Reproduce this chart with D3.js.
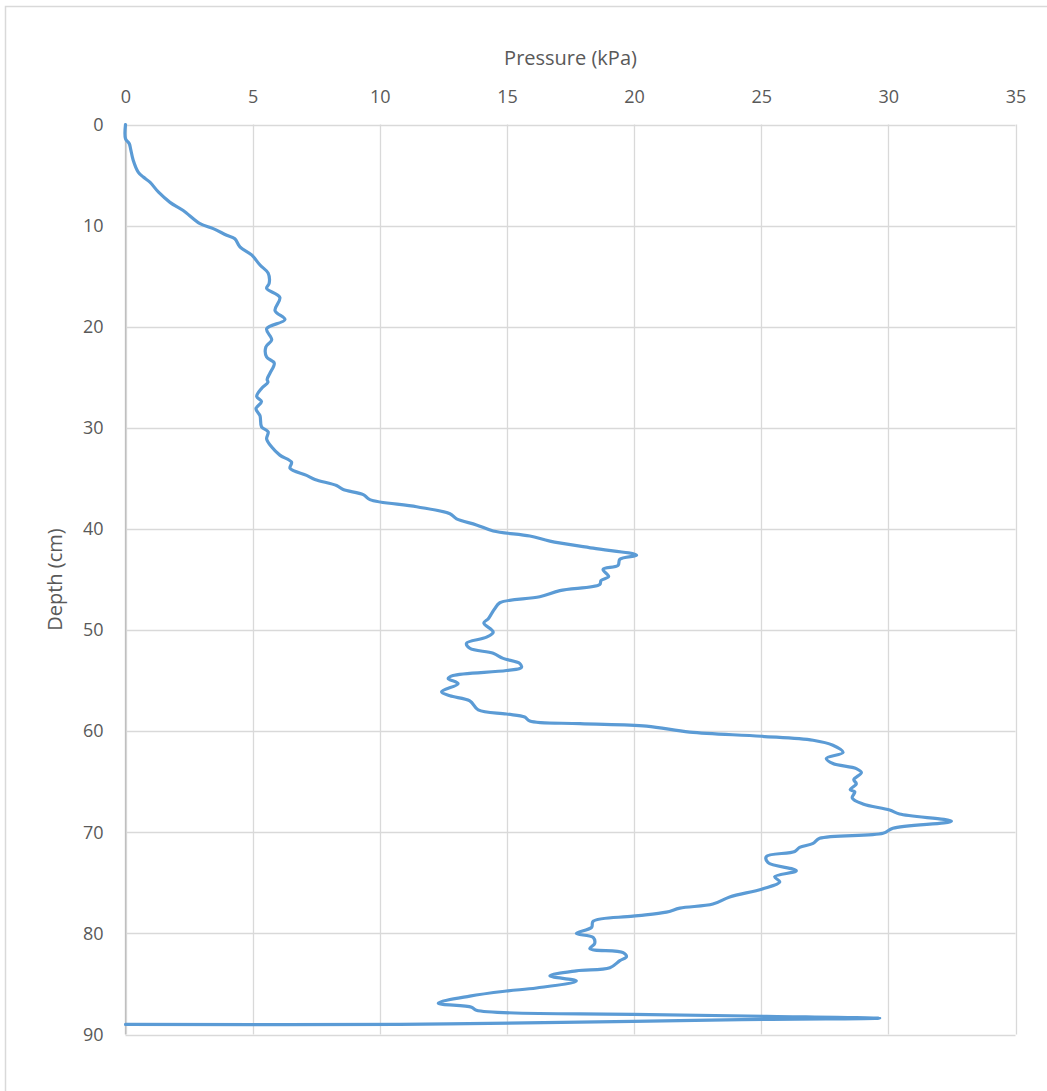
<!DOCTYPE html>
<html>
<head>
<meta charset="utf-8">
<script src="https://cdn.jsdelivr.net/npm/d3@7"></script>
<style>
  html, body { margin: 0; padding: 0; background: #fff; }
  svg { display: block; }
  text { font-family: "Open Sans", "Noto Sans", sans-serif; fill: #595959; }
</style>
</head>
<body>
<svg id="chart" width="1047" height="1091"></svg>
<script>
// Cone penetrometer profile: depth (cm) against pressure (kPa), in trace order
const depth = [
  0.0, 1.4, 1.9, 2.4, 3.5, 4.7, 5.2, 5.7, 6.7, 7.7, 8.5, 9.8, 10.3, 10.95, 11.3, 12.1,
  12.9, 13.9, 14.7, 15.7, 16.2, 17.1, 18.4, 19.3, 20.2, 21.3, 22.0, 23.0, 23.6, 24.6,
  25.2, 25.5, 26.1, 26.9, 27.4, 28.1, 28.8, 29.9, 30.4, 31.1, 31.9, 32.7, 33.4, 34.0,
  34.7, 35.1, 35.7, 36.1, 36.6, 37.1, 37.8, 38.5, 39.0, 39.6, 40.2, 40.7, 41.2, 41.9,
  42.6, 43.0, 43.6, 44.0, 44.7, 45.1, 45.5, 46.1, 46.7, 47.3, 47.9, 48.4, 48.9, 49.3,
  50.2, 50.7, 51.3, 51.8, 52.3, 52.8, 53.3, 53.7, 54.0, 54.5, 54.8, 55.3, 56.1, 56.5,
  57.0, 57.9, 58.3, 58.6, 59.0, 59.25, 59.5, 60.1, 60.5, 60.9, 61.4, 62.1, 62.7, 63.2,
  63.7, 64.1, 64.8, 65.2, 65.8, 66.0, 66.6, 67.2, 67.8, 68.2, 68.9, 69.6, 70.1, 70.6,
  71.1, 71.5, 71.9, 72.4, 73.0, 73.8, 74.4, 74.9, 75.6, 76.4, 77.1, 77.5, 77.9, 78.3,
  78.8, 79.4, 80.0, 80.4, 81.0, 81.5, 81.9, 82.3, 82.7, 83.4, 83.7, 84.2, 84.7, 85.4,
  85.7, 86.2, 86.9, 87.3, 87.6, 88.0, 88.2, 88.4, 88.5, 88.7, 89.0, 89.0
];
const pressure = [
  0.0, 0.0, 0.15, 0.2, 0.3, 0.5, 0.7, 0.96, 1.3, 1.75, 2.27, 2.93, 3.45, 3.98, 4.3, 4.5,
  4.96, 5.29, 5.61, 5.65, 5.55, 6.07, 5.88, 6.27, 5.55, 5.75, 5.52, 5.55, 5.85, 5.68,
  5.57, 5.6, 5.35, 5.16, 5.35, 5.13, 5.29, 5.35, 5.61, 5.55, 5.75, 6.07, 6.53, 6.47,
  7.12, 7.45, 8.3, 8.56, 9.35, 9.61, 11.45, 12.76, 13.02, 13.8, 14.46, 15.9, 16.69, 18.39,
  20.1, 19.44, 19.37, 18.78, 19.0, 18.7, 18.65, 17.08, 16.29, 14.72, 14.52, 14.39, 14.26, 14.09,
  14.46, 14.2, 13.41, 13.54, 14.46, 14.85, 15.5, 15.57, 14.98, 12.88, 12.69, 13.08, 12.43, 12.76,
  13.54, 13.87, 14.98, 15.7, 15.9, 17.87, 20.49, 22.19, 25.0, 27.04, 27.82, 28.22, 27.56, 27.82,
  28.74, 28.94, 28.64, 28.74, 28.5, 28.68, 28.58, 29.0, 30.05, 30.44, 32.48, 30.18, 29.79, 27.3,
  27.04, 26.51, 26.32, 25.2, 25.27, 26.38, 25.53, 25.73, 25.05, 23.76, 23.1, 21.8, 21.27, 19.96,
  18.39, 18.33, 17.73, 18.39, 18.45, 18.26, 19.57, 19.7, 19.44, 19.05, 17.73, 16.69, 17.73, 16.16,
  14.98, 13.54, 12.3, 13.61, 13.8, 19.96, 25.2, 29.66, 25.2, 19.96, 10.79, 0.0
];
const xTicks = [0, 5, 10, 15, 20, 25, 30, 35];
const yTicks = [0, 10, 20, 30, 40, 50, 60, 70, 80, 90];
const xTitle = "Pressure (kPa)";
const yTitle = "Depth (cm)";

const svg = d3.select("#chart");
const W = 1047, H = 1091;
const plot = { left: 125.5, right: 1015.5, top: 124.5, bottom: 1034.5 };

// Chart frame
svg.append("rect")
  .attr("x", 5.5).attr("y", 6.5)
  .attr("width", W + 20).attr("height", H + 20)
  .attr("fill", "none").attr("stroke", "#d9d9d9").attr("stroke-width", 1.5);

const x = d3.scaleLinear().domain([0, 35]).range([plot.left, plot.right]);
const y = d3.scaleLinear().domain([0, 90]).range([plot.top, plot.bottom]);

// Gridlines
const grid = svg.append("g").attr("stroke", "#d9d9d9").attr("stroke-width", 1.3);
grid.selectAll("line.v").data(xTicks).join("line")
  .attr("x1", d => Math.round(x(d)) + 0.5).attr("x2", d => Math.round(x(d)) + 0.5)
  .attr("y1", plot.top).attr("y2", plot.bottom);
grid.selectAll("line.h").data(yTicks).join("line")
  .attr("y1", d => Math.round(y(d)) + 0.5).attr("y2", d => Math.round(y(d)) + 0.5)
  .attr("x1", plot.left).attr("x2", plot.right);

// Axes (labels only; lines drawn by the grid)
const xAxis = svg.append("g")
  .attr("transform", `translate(0,${plot.top - 22})`)
  .call(d3.axisTop(x).tickValues(xTicks).tickSize(0).tickPadding(0));
xAxis.select(".domain").remove();
xAxis.selectAll("text").attr("font-size", 18).attr("fill", "#595959")
  .style("font-family", "'Open Sans', sans-serif");

const yAxis = svg.append("g")
  .attr("transform", `translate(${plot.left - 22},0)`)
  .call(d3.axisLeft(y).tickValues(yTicks).tickSize(0).tickPadding(0));
yAxis.select(".domain").remove();
yAxis.selectAll("text").attr("font-size", 18).attr("fill", "#595959")
  .style("font-family", "'Open Sans', sans-serif");

// Left axis line
svg.append("line")
  .attr("x1", plot.left).attr("x2", plot.left)
  .attr("y1", plot.top).attr("y2", plot.bottom)
  .attr("stroke", "#bfbfbf").attr("stroke-width", 1.3);

// Axis titles
svg.append("text")
  .attr("x", (plot.left + plot.right) / 2).attr("y", 65)
  .attr("text-anchor", "middle").attr("font-size", 20)
  .text(xTitle);
svg.append("text")
  .attr("transform", `translate(62,${(plot.top + plot.bottom) / 2}) rotate(-90)`)
  .attr("text-anchor", "middle").attr("font-size", 20)
  .text(yTitle);

// Profile line
const pts = depth.map((d, i) => [pressure[i], d]);
const line = d3.line()
  .x(p => x(p[0])).y(p => y(p[1]))
  .curve(d3.curveCatmullRom.alpha(0.5));
svg.append("path")
  .datum(pts)
  .attr("d", line)
  .attr("fill", "none")
  .attr("stroke", "#5b9bd5")
  .attr("stroke-width", 3.2)
  .attr("stroke-linejoin", "round")
  .attr("stroke-linecap", "round");
</script>
</body>
</html>
